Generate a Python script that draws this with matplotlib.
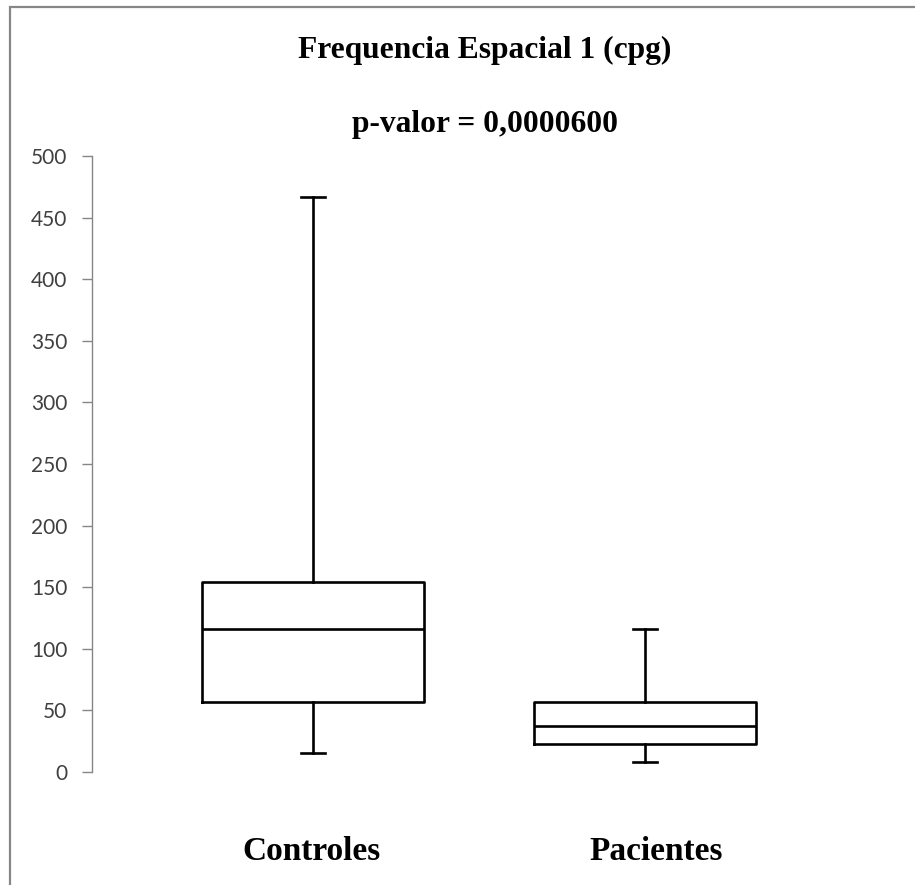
import matplotlib.pyplot as plt
from matplotlib.patches import Rectangle

# values
groups = ["Controles", "Pacientes"]
whislo = [15.2, 7.9]
q1 = [56.6, 22.5]
med = [116.1, 37.6]
q3 = [154.5, 56.6]
whishi = [466.7, 116.0]
yticks = [0, 50, 100, 150, 200, 250, 300, 350, 400, 450, 500]

stats = []
for i, g in enumerate(groups):
    stats.append({"label": g, "whislo": whislo[i], "q1": q1[i], "med": med[i],
                  "q3": q3[i], "whishi": whishi[i], "fliers": []})

W, H = 915, 885
fig = plt.figure(figsize=(W / 100, H / 100), dpi=100)
# grey chart-area frame (right/bottom edges fall outside the picture)
fig.patches.append(Rectangle((10 / W, -0.05), 1.2, 1 - 7 / H + 0.05,
                             transform=fig.transFigure, fill=False,
                             edgecolor="#878787", linewidth=1.6))

ax = fig.add_axes([92 / W, (H - 772) / H, (W - 92) / W, 616 / H])
line = dict(color="black", linewidth=1.9)
ax.bxp(stats, positions=[1, 2], widths=0.669, showfliers=False,
       boxprops=line, medianprops=line, whiskerprops=line,
       capprops=line, capwidths=0.072)

ax.set_xlim(1 - 221 / 332, 2 + 270 / 332)
ax.set_ylim(0, 500)
ax.set_yticks(yticks)
ax.tick_params(axis="y", direction="out", length=7.2, width=1, color="#868686",
               labelsize=15, labelcolor="#404040", pad=10.5)
for lab in ax.get_yticklabels():
    lab.set_fontfamily("Lato")
ax.set_xticks([])
for s in ["top", "right", "bottom"]:
    ax.spines[s].set_visible(False)
ax.spines["left"].set_color("#868686")
ax.spines["left"].set_linewidth(1)

serif = dict(fontfamily="Liberation Serif", fontweight="bold", ha="center",
             va="baseline")
fig.text(485 / W, 1 - 58 / H, "Frequencia Espacial 1 (cpg)", fontsize=22.7, **serif)
fig.text(485 / W, 1 - 132 / H, "p-valor = 0,0000600", fontsize=22.7, **serif)
for x, g in zip([311, 656], groups):
    fig.text(x / W, 1 - 860 / H, g, fontsize=24, **serif)

plt.savefig("out.png", dpi=100)
